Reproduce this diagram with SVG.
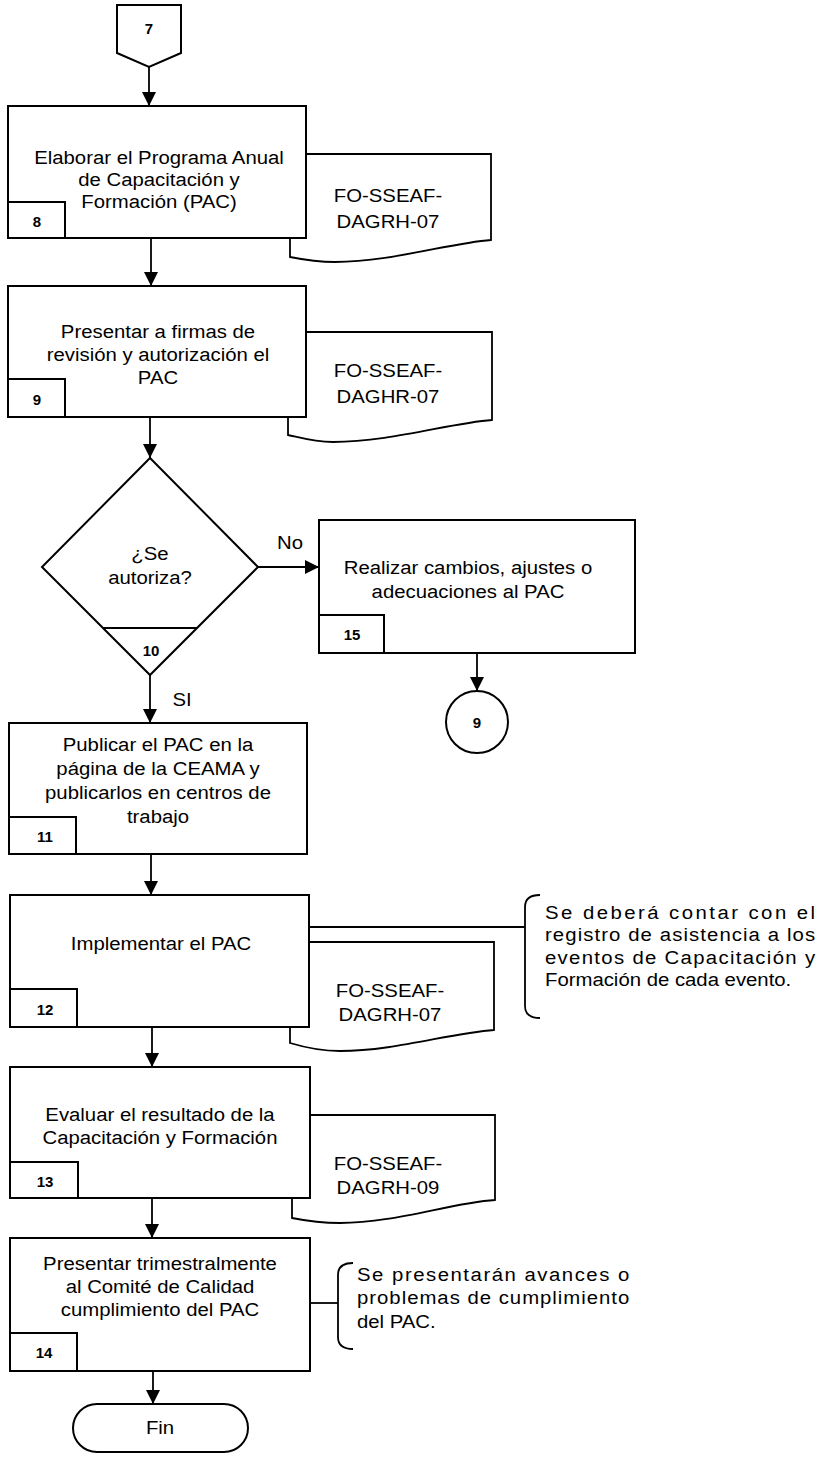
<svg xmlns="http://www.w3.org/2000/svg" width="819" height="1464" viewBox="0 0 819 1464">
  <style>
    .shape { fill: #ffffff; stroke: #000000; stroke-width: 2; }
    .doc { fill: #ffffff; stroke: #000000; stroke-width: 1.8; }
    .line { fill: none; stroke: #000000; stroke-width: 1.8; }
    .t { font-family: "Liberation Sans", Arial, sans-serif; font-size: 18px; fill: #000000; }
    .c { text-anchor: middle; }
    .n { font-family: "Liberation Sans", Arial, sans-serif; font-size: 15px; font-weight: bold; fill: #000000; text-anchor: middle; }
  </style>
  <defs>
    <marker id="arrow" markerUnits="userSpaceOnUse" markerWidth="14" markerHeight="14" viewBox="0 0 14 14" refX="14" refY="7" orient="auto">
      <path d="M0,0 L14,7 L0,14 Z" fill="#000000"/>
    </marker>
  </defs>

  <rect x="0" y="0" width="819" height="1464" fill="#ffffff"/>

  <!-- connectors -->
  <g id="connectors">
    <line class="line" x1="149" y1="67" x2="149" y2="106" marker-end="url(#arrow)"/>
    <line class="line" x1="151" y1="238" x2="151" y2="286" marker-end="url(#arrow)"/>
    <line class="line" x1="150" y1="417" x2="150" y2="458" marker-end="url(#arrow)"/>
    <line class="line" x1="258" y1="567" x2="319" y2="567" marker-end="url(#arrow)"/>
    <line class="line" x1="477" y1="653" x2="477" y2="691" marker-end="url(#arrow)"/>
    <line class="line" x1="150" y1="675" x2="150" y2="723" marker-end="url(#arrow)"/>
    <line class="line" x1="151" y1="854" x2="151" y2="895" marker-end="url(#arrow)"/>
    <line class="line" x1="152" y1="1027" x2="152" y2="1067" marker-end="url(#arrow)"/>
    <line class="line" x1="152" y1="1198" x2="152" y2="1238" marker-end="url(#arrow)"/>
    <line class="line" x1="153" y1="1371" x2="153" y2="1404" marker-end="url(#arrow)"/>
    <line class="line" x1="309" y1="927" x2="525" y2="927"/>
    <line class="line" x1="310" y1="1303" x2="338" y2="1303"/>
    <text class="t" transform="matrix(1.13 0 0 1 290 0)"><tspan class="c" x="0" y="549">No</tspan></text>
    <text class="t" transform="matrix(1.13 0 0 1 182 0)"><tspan class="c" x="0" y="706">SI</tspan></text>
  </g>

  <!-- off-page connector 7 -->
  <g id="node-7">
    <polygon class="shape" points="117,5 181,5 181,53 149,67 117,53"/>
    <text class="n" x="149" y="34">7</text>
  </g>

  <!-- step 8 -->
  <g id="node-8">
    <path class="doc" d="M290,154 H491 V240 C450,243 390,262 335,262 C315,262 300,259 290,257 Z"/>
    <text class="t" transform="matrix(1.13 0 0 1 388 0)"><tspan class="c" x="0" y="202">FO-SSEAF-</tspan><tspan class="c" x="0" y="228">DAGRH-07</tspan></text>
    <rect class="shape" x="8" y="106" width="298" height="132"/>
    <rect class="shape" x="8" y="202" width="57" height="36"/>
    <text class="n" x="37" y="227">8</text>
    <text class="t" transform="matrix(1.13 0 0 1 159 0)"><tspan class="c" x="0" y="164">Elaborar el Programa Anual</tspan><tspan class="c" x="0" y="186">de Capacitación y</tspan><tspan class="c" x="0" y="208">Formación (PAC)</tspan></text>
  </g>

  <!-- step 9 -->
  <g id="node-9">
    <path class="doc" d="M288,332 H492 V420 C450,423 390,442 333,442 C313,442 298,437 288,435 Z"/>
    <text class="t" transform="matrix(1.13 0 0 1 388 0)"><tspan class="c" x="0" y="377">FO-SSEAF-</tspan><tspan class="c" x="0" y="403">DAGHR-07</tspan></text>
    <rect class="shape" x="8" y="286" width="298" height="131"/>
    <rect class="shape" x="8" y="379" width="57" height="38"/>
    <text class="n" x="37" y="405">9</text>
    <text class="t" transform="matrix(1.13 0 0 1 158 0)"><tspan class="c" x="0" y="338">Presentar a firmas de</tspan><tspan class="c" x="0" y="361">revisión y autorización el</tspan><tspan class="c" x="0" y="384">PAC</tspan></text>
  </g>

  <!-- decision 10 -->
  <g id="node-10">
    <polygon class="shape" points="150,458 258,567 150,675 42,567"/>
    <line class="line" x1="103" y1="628" x2="197" y2="628"/>
    <text class="n" x="151" y="656">10</text>
    <text class="t" transform="matrix(1.13 0 0 1 150 0)"><tspan class="c" x="0" y="560">¿Se</tspan><tspan class="c" x="0" y="584">autoriza?</tspan></text>
  </g>

  <!-- step 15 -->
  <g id="node-15">
    <rect class="shape" x="319" y="520" width="316" height="133"/>
    <rect class="shape" x="319" y="615" width="65" height="38"/>
    <text class="n" x="352" y="640">15</text>
    <text class="t" transform="matrix(1.13 0 0 1 468 0)"><tspan class="c" x="0" y="574">Realizar cambios, ajustes o</tspan><tspan class="c" x="0" y="598">adecuaciones al PAC</tspan></text>
  </g>

  <!-- connector back to 9 -->
  <g id="node-9-ref">
    <circle class="shape" cx="477" cy="722" r="31"/>
    <text class="n" x="477" y="728">9</text>
  </g>

  <!-- step 11 -->
  <g id="node-11">
    <rect class="shape" x="9" y="723" width="298" height="131"/>
    <rect class="shape" x="9" y="817" width="67" height="37"/>
    <text class="n" x="45" y="842">11</text>
    <text class="t" transform="matrix(1.13 0 0 1 158 0)"><tspan class="c" x="0" y="751">Publicar el PAC en la</tspan><tspan class="c" x="0" y="775">página de la CEAMA y</tspan><tspan class="c" x="0" y="799">publicarlos en centros de</tspan><tspan class="c" x="0" y="823">trabajo</tspan></text>
  </g>

  <!-- step 12 -->
  <g id="node-12">
    <path class="doc" d="M290,942 H494 V1030 C450,1033 395,1051 340,1051 C318,1051 300,1046 290,1043 Z"/>
    <text class="t" transform="matrix(1.13 0 0 1 390 0)"><tspan class="c" x="0" y="997">FO-SSEAF-</tspan><tspan class="c" x="0" y="1021">DAGRH-07</tspan></text>
    <rect class="shape" x="10" y="895" width="299" height="132"/>
    <rect class="shape" x="10" y="989" width="67" height="38"/>
    <text class="n" x="45" y="1015">12</text>
    <text class="t" transform="matrix(1.13 0 0 1 161 0)"><tspan class="c" x="0" y="950">Implementar el PAC</tspan></text>
  </g>

  <!-- note on step 12 -->
  <g id="note-12">
    <path class="line" d="M540,895 C530,895 525,899 525,907 V1006 C525,1014 530,1018 540,1018"/>
    <text class="t" transform="matrix(1.13 0 0 1 545 0)"><tspan x="0" y="919" textLength="239" lengthAdjust="spacing">Se deberá contar con el</tspan><tspan x="0" y="941" textLength="239" lengthAdjust="spacing">registro de asistencia a los</tspan><tspan x="0" y="964" textLength="239" lengthAdjust="spacing">eventos de Capacitación y</tspan><tspan x="0" y="986">Formación de cada evento.</tspan></text>
  </g>

  <!-- step 13 -->
  <g id="node-13">
    <path class="doc" d="M292,1115 H495 V1200 C450,1203 395,1223 340,1223 C320,1223 302,1220 292,1218 Z"/>
    <text class="t" transform="matrix(1.13 0 0 1 388 0)"><tspan class="c" x="0" y="1170">FO-SSEAF-</tspan><tspan class="c" x="0" y="1194">DAGRH-09</tspan></text>
    <rect class="shape" x="10" y="1067" width="300" height="131"/>
    <rect class="shape" x="10" y="1162" width="68" height="36"/>
    <text class="n" x="45" y="1187">13</text>
    <text class="t" transform="matrix(1.13 0 0 1 160 0)"><tspan class="c" x="0" y="1121">Evaluar el resultado de la</tspan><tspan class="c" x="0" y="1144">Capacitación y Formación</tspan></text>
  </g>

  <!-- step 14 -->
  <g id="node-14">
    <rect class="shape" x="10" y="1238" width="300" height="133"/>
    <rect class="shape" x="10" y="1333" width="67" height="38"/>
    <text class="n" x="44" y="1358">14</text>
    <text class="t" transform="matrix(1.13 0 0 1 160 0)"><tspan class="c" x="0" y="1270">Presentar trimestralmente</tspan><tspan class="c" x="0" y="1293">al Comité de Calidad</tspan><tspan class="c" x="0" y="1316">cumplimiento del PAC</tspan></text>
  </g>

  <!-- note on step 14 -->
  <g id="note-14">
    <path class="line" d="M353,1263 C343,1263 338,1267 338,1275 V1337 C338,1345 343,1349 353,1349"/>
    <text class="t" transform="matrix(1.13 0 0 1 357 0)"><tspan x="0" y="1281" textLength="241" lengthAdjust="spacing">Se presentarán avances o</tspan><tspan x="0" y="1304" textLength="241" lengthAdjust="spacing">problemas de cumplimiento</tspan><tspan x="0" y="1328">del PAC.</tspan></text>
  </g>

  <!-- terminator -->
  <g id="node-fin">
    <rect class="shape" x="73" y="1404" width="175" height="48" rx="24" ry="24"/>
    <text class="t" transform="matrix(1.13 0 0 1 160 0)"><tspan class="c" x="0" y="1434">Fin</tspan></text>
  </g>
</svg>
